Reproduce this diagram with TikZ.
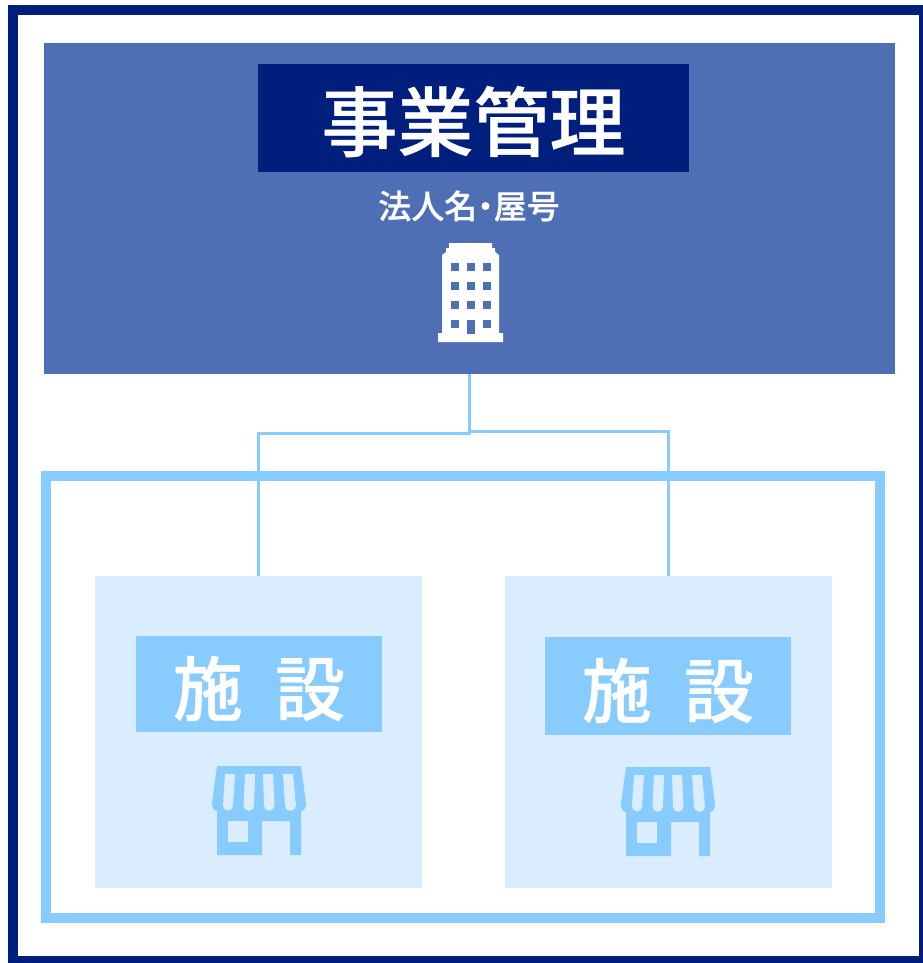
\documentclass[tikz,border=0pt]{standalone}
\usepackage{fontspec}
\usetikzlibrary{positioning}
\newfontfamily\jpfont[RawFeature=+palt,FakeBold=0.5]{Noto Sans CJK JP Medium}
\definecolor{navy}{HTML}{001F7D}
\definecolor{midblue}{HTML}{4F6FB5}
\definecolor{skyblue}{HTML}{88CBFF}
\definecolor{paleblue}{HTML}{DAEDFF}
\tikzstyle{panel}=[rectangle,inner sep=0pt,outer sep=0pt]
\tikzstyle{corpbox}=[panel,fill=midblue,minimum width=851pt,minimum height=331pt]
\tikzstyle{titlebox}=[panel,fill=navy,minimum width=431pt,minimum height=108pt,text height=65pt,text depth=0pt,text=white,font=\jpfont\fontsize{76}{76}\selectfont]
\tikzstyle{subtitle}=[inner sep=0pt,text=white,font=\jpfont\fontsize{33}{33}\selectfont]
\tikzstyle{shopbox}=[panel,fill=paleblue,minimum width=327pt,minimum height=312pt]
\tikzstyle{shoplabel}=[panel,fill=skyblue,minimum width=246pt,text height=62pt,text depth=0pt,text=white,font=\jpfont\fontsize{70}{70}\selectfont]
\tikzstyle{link} = [draw=skyblue,line width=3pt]

\begin{document}
\begin{tikzpicture}[x=1pt,y=-1pt]
    \useasboundingbox (0,0) rectangle (922,963);
    \fill[white] (0,0) rectangle (922,963);
    % Outer frame and the group frame
    \draw[navy,line width=10pt,fill=white] (13,10) rectangle (924,961);
    \draw[skyblue,line width=10pt] (45.5,476) rectangle (880,917.5);

    % First we draw the boxes
    \node[corpbox] (corp) at (469.5,208.5) {};
    \node[titlebox] (title) at (473.5,118) {事業管理};
    \node[subtitle] (corpname) at (469,206) {法人名・屋号};
    \foreach \pos/\name in {{(258.5,732)/shopA}, {(668,732)/shopB}}
        \node[shopbox] (\name) at \pos {};
    \node[shoplabel,minimum height=96pt] (labelA) at (259,684) {施\hspace{0.46em}設};
    \node[shoplabel,minimum height=98pt] (labelB) at (668,686) {施\hspace{0.46em}設};

    % Connectors
    \coordinate (forkA) at (469.5,433);
    \coordinate (forkB) at (469.5,431);
    \path[link] (corp.south) -- (forkA) -| (shopA.north);
    \path[link] (forkB) -| (shopB.north);

    % Building icon
    \fill[white] (449,243) -- (492,243) -- (492,248) -- (495,248) -- (495,252) -- (499,255)
        -- (499,333) -- (503,333) -- (503,342) -- (438,342) -- (438,333) -- (442,333)
        -- (442,255) -- (446,252) -- (446,248) -- (449,248) -- cycle;
    \foreach \x in {451,467,483}
        \foreach \y in {263,282,301}
            \fill[midblue] (\x,\y) rectangle ++(7.5,7.5);
    \fill[midblue] (451,320) rectangle ++(7.5,7.5);
    \fill[midblue] (483,320) rectangle ++(7.5,7.5);
    \fill[midblue] (467,320) rectangle (474.5,334);

    % Shop icons
    \foreach \dx/\dy in {0/0, 409/1} {
    \begin{scope}[shift={(\dx,\dy)}]
        \fill[skyblue] (217,766) -- (301,766) -- (306,803) .. controls (306,808) and (304,811) .. (301,811)
            -- (301,855) -- (290,855) -- (290,821) -- (262,821) -- (262,855) -- (217,855) -- (217,811)
            .. controls (214,811) and (212,808) .. (212,803) -- cycle;
        \fill[paleblue] (228,821) rectangle (248,842);
        \foreach \ta/\tb/\ba/\bb in {225/235/223/233, 245/255/243.5/254, 263/273/264/274.5, 283/293/285/296}
            \fill[paleblue] (\ta,774) -- (\tb,774) -- (\bb,805.5) arc[start angle=0,end angle=180,radius=(\bb-\ba)/2] -- cycle;
    \end{scope}
    }
\end{tikzpicture}
\end{document}
